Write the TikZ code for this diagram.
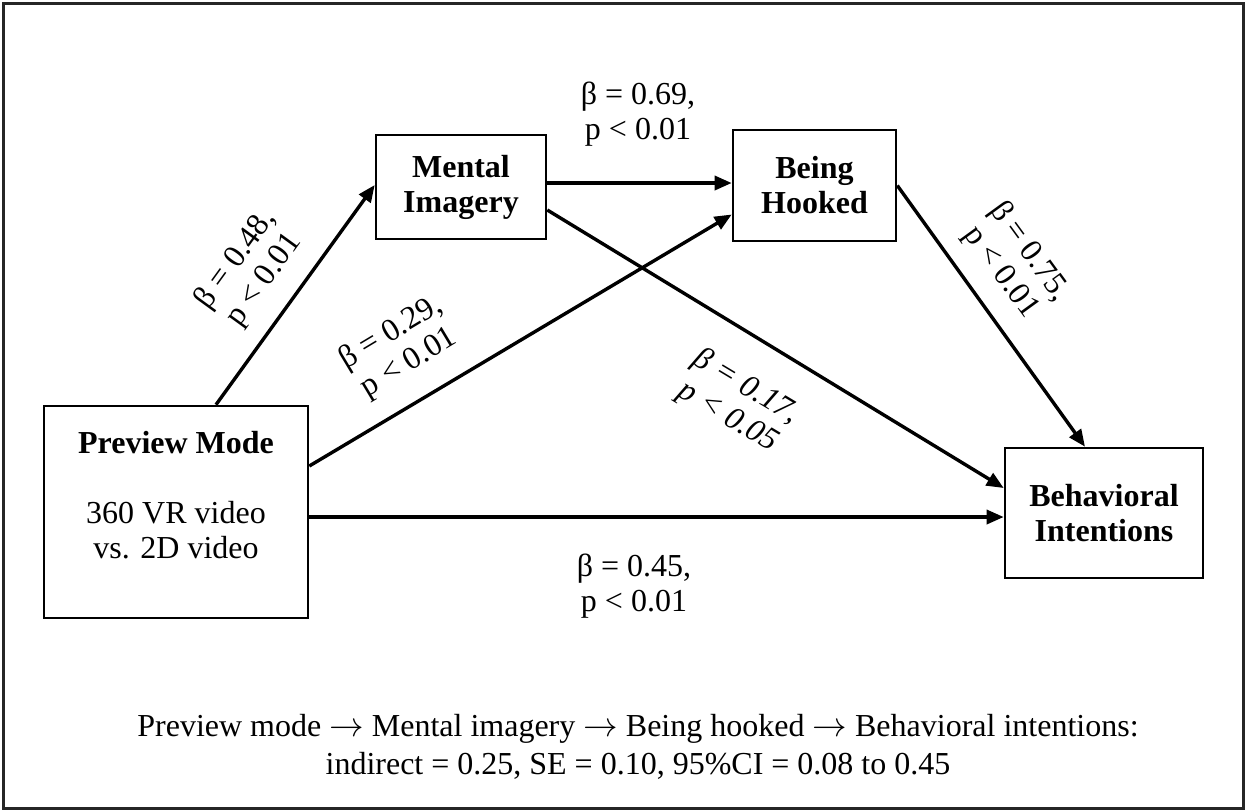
\documentclass[tikz,border=0pt]{standalone}
\usepackage{fontspec}
\setmainfont{Liberation Serif}
\usetikzlibrary{arrows.meta,calc}

\begin{document}
\begin{tikzpicture}[x=0.5pt,y=-0.5pt]
      \tikzstyle{every node}+=[inner sep=0pt, font=\fontsize{16}{17.5}\selectfont]
      \tikzstyle{box}=[draw=black, line width=1.3pt, align=center]
      \tikzstyle{link}=[draw=black, line width=1.7pt, -{Triangle[length=8.5pt,width=7pt]}]
      \tikzstyle{lbl}=[align=center]
      \useasboundingbox (0,0) rectangle (1246,811);
      \draw [black!85, line width=1.5pt] (3,3) rectangle (1243,808);
      % boxes
      \node [box, minimum width=132pt, minimum height=106pt] (pm) at (176,512) {\textbf{Preview Mode}\\[17.5pt]360 VR video\\vs. 2D video\\ };
      \node [box, minimum width=85pt, minimum height=52pt] (mi) at (461,187) {\textbf{Mental}\\\textbf{Imagery}};
      \node [box, minimum width=81.5pt, minimum height=55.5pt] (bh) at (814.5,185.5) {\textbf{Being}\\\textbf{Hooked}};
      \node [box, minimum width=99pt, minimum height=65pt] (bi) at (1104,513) {\textbf{Behavioral}\\\textbf{Intentions}};
      % paths
      \draw [link] ($(pm.north west)!0.65!(pm.north east)$) -- ([yshift=1pt]mi.west);
      \draw [link] ([yshift=2pt]mi.east) -- ([yshift=2pt]mi.east -| bh.west);
      \draw [link] ([yshift=23pt]pm.east) -- ([yshift=-14.5pt]bh.west);
      \draw [link] ([yshift=-11.5pt]mi.east) -- ([yshift=12.5pt]bi.west);
      \draw [link] (bh.east) -- ([xshift=-9.5pt]bi.north);
      \draw [link] ([yshift=-2.5pt]pm.east) -- ([yshift=-2.5pt]pm.east -| bi.west);
      % coefficients
      \node [lbl] (c1) at (638,114) {β = 0.69,\\p < 0.01};
      \node [lbl, rotate=54] (c2) at (250,270) {β = 0.48,\\p < 0.01};
      \node [lbl, rotate=31] (c3) at (400,348) {β = 0.29,\\p < 0.01};
      \node [lbl, rotate=-31, font=\fontsize{16}{17.5}\selectfont\itshape] (c4) at (737,402) {β = 0.17,\\p < 0.05};
      \node [lbl, rotate=-54] (c5) at (1015,262) {β = 0.75,\\p < 0.01};
      \node [lbl] (c6) at (634,586) {β = 0.45,\\p < 0.01};
      % indirect effect
      \node [lbl, font=\fontsize{16}{19}\selectfont] (ind) at (638,747) {Preview mode $\rightarrow$ Mental imagery $\rightarrow$ Being hooked $\rightarrow$ Behavioral intentions:\\indirect = 0.25, SE = 0.10, 95\%CI = 0.08 to 0.45};
\end{tikzpicture}
\end{document}
